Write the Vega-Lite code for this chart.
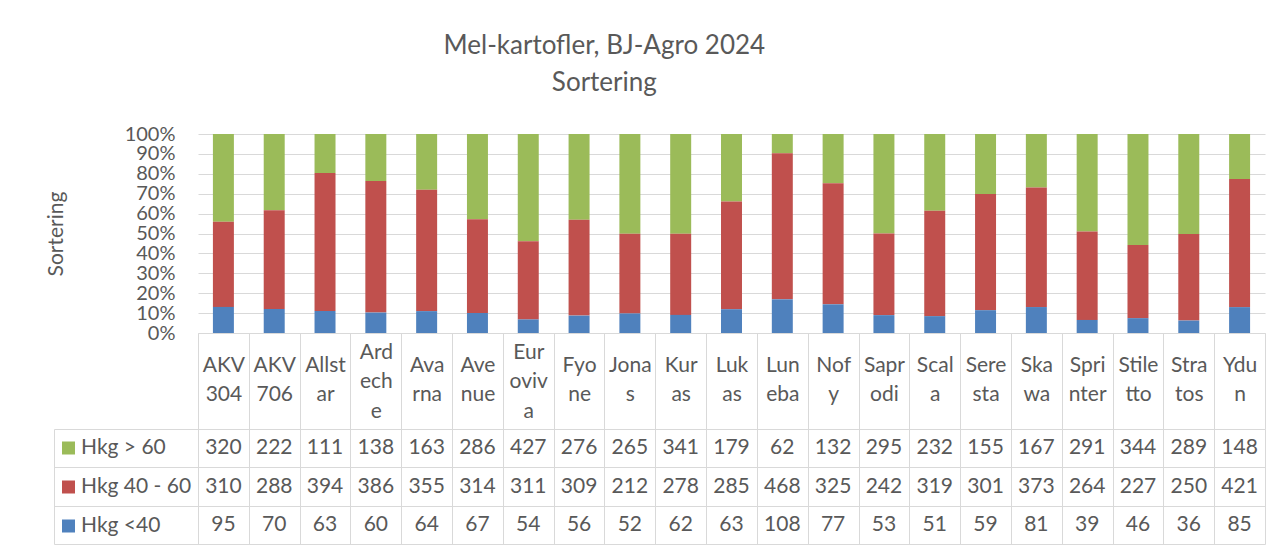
{
  "$schema": "https://vega.github.io/schema/vega-lite/v6.json",
  "background": "white",
  "padding": {"left": 45, "top": 33, "right": 16, "bottom": 5},
  "title": {
    "text": ["Mel-kartofler, BJ-Agro 2024", "Sortering"],
    "font": "Lato", "fontSize": 26, "fontWeight": "normal", "color": "#595959",
    "lineHeight": 36.6, "anchor": "middle", "offset": 28, "dx": -51
  },
  "datasets": {
    "sorter": [
      {"sort": "AKV 304", "Hkg > 60": 320, "Hkg 40 - 60": 310, "Hkg <40": 95},
      {"sort": "AKV 706", "Hkg > 60": 222, "Hkg 40 - 60": 288, "Hkg <40": 70},
      {"sort": "Allstar", "Hkg > 60": 111, "Hkg 40 - 60": 394, "Hkg <40": 63},
      {"sort": "Ardeche", "Hkg > 60": 138, "Hkg 40 - 60": 386, "Hkg <40": 60},
      {"sort": "Avarna", "Hkg > 60": 163, "Hkg 40 - 60": 355, "Hkg <40": 64},
      {"sort": "Avenue", "Hkg > 60": 286, "Hkg 40 - 60": 314, "Hkg <40": 67},
      {"sort": "Euroviva", "Hkg > 60": 427, "Hkg 40 - 60": 311, "Hkg <40": 54},
      {"sort": "Fyone", "Hkg > 60": 276, "Hkg 40 - 60": 309, "Hkg <40": 56},
      {"sort": "Jonas", "Hkg > 60": 265, "Hkg 40 - 60": 212, "Hkg <40": 52},
      {"sort": "Kuras", "Hkg > 60": 341, "Hkg 40 - 60": 278, "Hkg <40": 62},
      {"sort": "Lukas", "Hkg > 60": 179, "Hkg 40 - 60": 285, "Hkg <40": 63},
      {"sort": "Luneba", "Hkg > 60": 62, "Hkg 40 - 60": 468, "Hkg <40": 108},
      {"sort": "Nofy", "Hkg > 60": 132, "Hkg 40 - 60": 325, "Hkg <40": 77},
      {"sort": "Saprodi", "Hkg > 60": 295, "Hkg 40 - 60": 242, "Hkg <40": 53},
      {"sort": "Scala", "Hkg > 60": 232, "Hkg 40 - 60": 319, "Hkg <40": 51},
      {"sort": "Seresta", "Hkg > 60": 155, "Hkg 40 - 60": 301, "Hkg <40": 59},
      {"sort": "Skawa", "Hkg > 60": 167, "Hkg 40 - 60": 373, "Hkg <40": 81},
      {"sort": "Sprinter", "Hkg > 60": 291, "Hkg 40 - 60": 264, "Hkg <40": 39},
      {"sort": "Stiletto", "Hkg > 60": 344, "Hkg 40 - 60": 227, "Hkg <40": 46},
      {"sort": "Stratos", "Hkg > 60": 289, "Hkg 40 - 60": 250, "Hkg <40": 36},
      {"sort": "Ydun", "Hkg > 60": 148, "Hkg 40 - 60": 421, "Hkg <40": 85}
    ],
    "stackorder": [
      {"series": "Hkg <40", "k": 1},
      {"series": "Hkg 40 - 60", "k": 2},
      {"series": "Hkg > 60", "k": 3}
    ]
  },
  "data": {"name": "sorter"},
  "bounds": "flush",
  "spacing": 96,
  "resolve": {"scale": {"x": "independent", "y": "independent"}, "legend": {"color": "independent"}},
  "vconcat": [
    {
      "width": 1067,
      "height": 199,
      "transform": [
        {"fold": ["Hkg > 60", "Hkg 40 - 60", "Hkg <40"], "as": ["series", "value"]},
        {"lookup": "series", "from": {"data": {"name": "stackorder"}, "key": "series", "fields": ["k"]}}
      ],
      "mark": {"type": "bar", "width": {"band": 0.413}},
      "encoding": {
        "x": {
          "field": "sort", "type": "nominal", "sort": null,
          "scale": {"paddingInner": 0, "paddingOuter": 0},
          "axis": {
            "title": null, "orient": "bottom", "tickBand": "extent", "ticks": true, "tickSize": 96,
            "tickColor": "#D9D9D9", "tickWidth": 1, "domain": true, "domainColor": "#D9D9D9", "domainWidth": 1,
            "grid": false, "labelAngle": 0,
            "labelPadding": {"condition": {"test": "datum.value === 'Ardeche' || datum.value === 'Euroviva'", "value": -77}, "value": -64},
            "labelBaseline": "middle", "labelAlign": "center",
            "labelFont": "Lato", "labelFontSize": 21, "labelColor": "#595959", "labelLineHeight": 29.5,
            "labelOverlap": false, "labelLimit": 0,
            "labelExpr": "{'AKV 304':['AKV','304'],'AKV 706':['AKV','706'],'Allstar':['Allst','ar'],'Ardeche':['Ard','ech','e'],'Avarna':['Ava','rna'],'Avenue':['Ave','nue'],'Euroviva':['Eur','oviv','a'],'Fyone':['Fyo','ne'],'Jonas':['Jona','s'],'Kuras':['Kur','as'],'Lukas':['Luk','as'],'Luneba':['Lun','eba'],'Nofy':['Nof','y'],'Saprodi':['Sapr','odi'],'Scala':['Scal','a'],'Seresta':['Sere','sta'],'Skawa':['Ska','wa'],'Sprinter':['Spri','nter'],'Stiletto':['Stile','tto'],'Stratos':['Stra','tos'],'Ydun':['Ydu','n']}[datum.label]"
          }
        },
        "y": {
          "field": "value", "type": "quantitative", "stack": "normalize",
          "scale": {"domain": [0, 1]},
          "axis": {
            "title": "Sortering", "values": [0, 0.1, 0.2, 0.3, 0.4, 0.5, 0.6, 0.7, 0.8, 0.9, 1],
            "format": ".0%", "grid": true, "gridColor": "#D9D9D9", "gridWidth": 1,
            "domain": false, "ticks": false, "labelPadding": 23, "labelFlush": false, "labelOverlap": false,
            "labelFont": "Lato", "labelFontSize": 20, "labelColor": "#595959",
            "titleFont": "Lato", "titleFontSize": 21, "titleFontWeight": "normal", "titleColor": "#595959",
            "titlePadding": 58
          }
        },
        "color": {
          "field": "series", "type": "nominal",
          "scale": {"domain": ["Hkg > 60", "Hkg 40 - 60", "Hkg <40"], "range": ["#9BBB59", "#C0504D", "#4F81BD"]},
          "legend": {
            "title": null, "orient": "none", "legendX": -140, "legendY": 303.5, "direction": "vertical",
            "symbolType": "square", "symbolSize": 169, "symbolStrokeWidth": 0,
            "labelFont": "Lato", "labelFontSize": 21, "labelColor": "#595959", "labelOffset": 2,
            "rowPadding": 17, "padding": 0
          }
        },
        "order": {"field": "k", "type": "quantitative"}
      }
    },
    {
      "width": 1067,
      "height": 115,
      "transform": [
        {"fold": ["Hkg > 60", "Hkg 40 - 60", "Hkg <40"], "as": ["series", "value"]}
      ],
      "mark": {"type": "text", "font": "Lato", "fontSize": 21, "color": "#595959", "baseline": "middle", "align": "center"},
      "encoding": {
        "x": {
          "field": "sort", "type": "nominal", "sort": null,
          "scale": {"paddingInner": 0, "paddingOuter": 0},
          "axis": {"title": null, "labels": false, "ticks": false, "domain": false, "grid": true, "tickBand": "extent", "gridColor": "#D9D9D9", "gridWidth": 1}
        },
        "y": {
          "field": "series", "type": "nominal",
          "scale": {"domain": ["Hkg > 60", "Hkg 40 - 60", "Hkg <40"], "paddingInner": 0, "paddingOuter": 0},
          "axis": {"title": null, "labels": false, "offset": 144, "domain": true, "domainColor": "#D9D9D9", "domainWidth": 1, "ticks": true, "tickBand": "extent", "tickSize": -1211, "tickColor": "#D9D9D9", "tickWidth": 1, "grid": false}
        },
        "text": {"field": "value", "type": "quantitative"}
      }
    }
  ],
  "config": {"view": {"stroke": null}, "font": "Lato"}
}
